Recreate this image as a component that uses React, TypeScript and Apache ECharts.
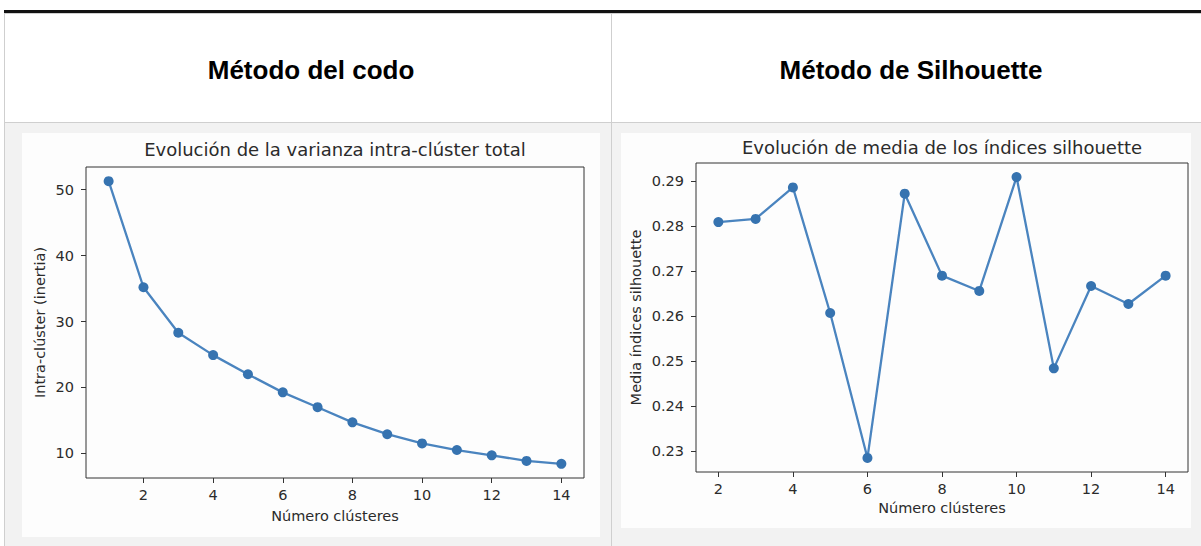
import React, { useEffect, useRef } from "react";
import * as echarts from "echarts";

// Elbow method: total within-cluster variance per number of clusters
const elbowClusters = [1, 2, 3, 4, 5, 6, 7, 8, 9, 10, 11, 12, 13, 14];
const inertiaValues = [51.3, 35.2, 28.3, 24.9, 22.0, 19.25, 17.0, 14.7, 12.9, 11.5, 10.5, 9.7, 8.85, 8.4];

// Silhouette method: mean silhouette index per number of clusters
const silhouetteClusters = [2, 3, 4, 5, 6, 7, 8, 9, 10, 11, 12, 13, 14];
const silhouetteValues = [0.2809, 0.2816, 0.2886, 0.2607, 0.2285, 0.2872, 0.269, 0.2656, 0.2909, 0.2484, 0.2667, 0.2627, 0.269];

// Tick labels
const clusterTicks = [2, 4, 6, 8, 10, 12, 14];
const inertiaTicks = [10, 20, 30, 40, 50];
const silhouetteTicks = [0.23, 0.24, 0.25, 0.26, 0.27, 0.28, 0.29];

const headerLeft = "Método del codo";
const headerRight = "Método de Silhouette";
const titleLeft = "Evolución de la varianza intra-clúster total";
const titleRight = "Evolución de media de los índices silhouette";
const xName = "Número clústeres";
const yNameLeft = "Intra-clúster (inertia)";
const yNameRight = "Media índices silhouette";

const FONT = "DejaVu Sans";
const TEXT = "#2b2b2b";
const LINE = "#4a84bf";
const DOT = "#3673b0";
const TICK_SIZE = 14.5;

// 5% padding on both sides of the data extent
function padded(values: number[]): [number, number] {
  const lo = Math.min(...values);
  const hi = Math.max(...values);
  const pad = (hi - lo) * 0.05;
  return [lo - pad, hi + pad];
}

function xAxisFor(gridIndex: number, values: number[], nameGap: number) {
  const [min, max] = padded(values);
  return {
    type: "value",
    gridIndex,
    min,
    max,
    name: xName,
    nameLocation: "middle",
    nameGap,
    nameTextStyle: { fontFamily: FONT, fontSize: TICK_SIZE, color: TEXT },
    axisLine: { show: false },
    splitLine: { show: false },
    axisTick: {
      show: true,
      inside: false,
      length: 5,
      customValues: clusterTicks,
      lineStyle: { color: "#333", width: 1 },
    },
    axisLabel: {
      customValues: clusterTicks,
      margin: 9,
      fontFamily: FONT,
      fontSize: TICK_SIZE,
      color: TEXT,
    },
  };
}

function yAxisFor(
  gridIndex: number,
  values: number[],
  ticks: number[],
  name: string,
  nameGap: number,
  digits: number
) {
  const [min, max] = padded(values);
  return {
    type: "value",
    gridIndex,
    min,
    max,
    name,
    nameLocation: "middle",
    nameGap,
    nameTextStyle: { fontFamily: FONT, fontSize: TICK_SIZE, color: TEXT },
    axisLine: { show: false },
    splitLine: { show: false },
    axisTick: {
      show: true,
      inside: false,
      length: 5,
      customValues: ticks,
      lineStyle: { color: "#333", width: 1 },
    },
    axisLabel: {
      customValues: ticks,
      margin: 12,
      fontFamily: FONT,
      fontSize: TICK_SIZE,
      color: TEXT,
      formatter: (v: number) => v.toFixed(digits),
    },
  };
}

export default function App() {
  const ref = useRef<HTMLDivElement>(null);

  useEffect(() => {
    if (!ref.current) return;
    const chart = echarts.init(ref.current, null, { renderer: "svg" });

    const borderGray = "#cfcfcf";
    const headerFont = "bold 26px 'Liberation Sans', Arial, sans-serif";

    chart.setOption({
      animation: false,
      backgroundColor: "#ffffff",
      graphic: [
        // second table row background
        { type: "rect", z: -20, shape: { x: 5, y: 123, width: 1196, height: 423 }, style: { fill: "#f2f2f2" } },
        // plot images
        { type: "rect", z: -15, shape: { x: 22, y: 133, width: 578, height: 404 }, style: { fill: "#fdfdfd" } },
        { type: "rect", z: -15, shape: { x: 621, y: 133, width: 570, height: 395 }, style: { fill: "#fdfdfd" } },
        // table borders
        { type: "rect", z: -10, shape: { x: 4, y: 10, width: 1197, height: 3 }, style: { fill: "#111" } },
        { type: "rect", z: -10, shape: { x: 4, y: 13, width: 1197, height: 1 }, style: { fill: borderGray } },
        { type: "rect", z: -10, shape: { x: 4, y: 13, width: 1, height: 533 }, style: { fill: borderGray } },
        { type: "rect", z: -10, shape: { x: 611, y: 13, width: 1, height: 533 }, style: { fill: borderGray } },
        { type: "rect", z: -10, shape: { x: 4, y: 122, width: 1197, height: 1 }, style: { fill: borderGray } },
        // header titles
        {
          type: "text",
          z: -5,
          x: 311,
          y: 70,
          style: { text: headerLeft, fill: "#000", font: headerFont, align: "center", verticalAlign: "middle" },
        },
        {
          type: "text",
          z: -5,
          x: 911,
          y: 70,
          style: { text: headerRight, fill: "#000", font: headerFont, align: "center", verticalAlign: "middle" },
        },
      ],
      title: [
        {
          text: titleLeft,
          left: 335,
          top: 140,
          textAlign: "center",
          padding: 0,
          textStyle: { fontFamily: FONT, fontSize: 18, fontWeight: "normal", color: TEXT },
        },
        {
          text: titleRight,
          left: 942,
          top: 138,
          textAlign: "center",
          padding: 0,
          textStyle: { fontFamily: FONT, fontSize: 18, fontWeight: "normal", color: TEXT },
        },
      ],
      grid: [
        { left: 86, top: 167, width: 498, height: 311, show: true, borderColor: "#333", borderWidth: 1, backgroundColor: "transparent" },
        { left: 696, top: 163, width: 492, height: 309, show: true, borderColor: "#333", borderWidth: 1, backgroundColor: "transparent" },
      ],
      xAxis: [xAxisFor(0, elbowClusters, 30), xAxisFor(1, silhouetteClusters, 28)],
      yAxis: [
        yAxisFor(0, inertiaValues, inertiaTicks, yNameLeft, 39, 0),
        yAxisFor(1, silhouetteValues, silhouetteTicks, yNameRight, 53, 2),
      ],
      series: [
        {
          type: "line",
          xAxisIndex: 0,
          yAxisIndex: 0,
          data: elbowClusters.map((k, i) => [k, inertiaValues[i]]),
          symbol: "circle",
          symbolSize: 10,
          itemStyle: { color: DOT },
          lineStyle: { color: LINE, width: 2.3 },
        },
        {
          type: "line",
          xAxisIndex: 1,
          yAxisIndex: 1,
          data: silhouetteClusters.map((k, i) => [k, silhouetteValues[i]]),
          symbol: "circle",
          symbolSize: 10,
          itemStyle: { color: DOT },
          lineStyle: { color: LINE, width: 2.3 },
        },
      ],
    });

    return () => chart.dispose();
  }, []);

  return (
    <div
      ref={ref}
      style={{ position: "fixed", left: 0, top: 0, width: 1201, height: 546 }}
    />
  );
}
